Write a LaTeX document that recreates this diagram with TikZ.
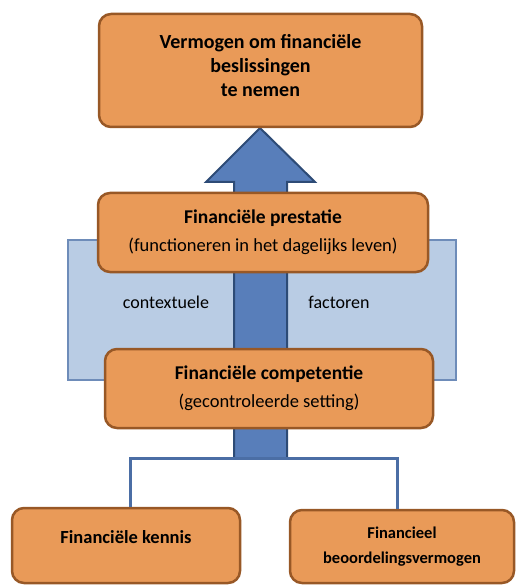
\documentclass[tikz,border=0pt]{standalone}
\usepackage{fontspec}
\setmainfont{Carlito}
\definecolor{oranje}{RGB}{233,154,88}
\definecolor{bruin}{RGB}{152,88,38}
\definecolor{pijlblauw}{RGB}{88,126,186}
\definecolor{donkerblauw}{RGB}{45,75,118}
\definecolor{lichtblauw}{RGB}{185,204,228}
\definecolor{randblauw}{RGB}{110,140,185}
\definecolor{lijnblauw}{RGB}{75,110,165}
\newcommand{\subtekst}{\fontsize{18.5}{28}\selectfont\mdseries}

\begin{document}
\begin{tikzpicture}[x=1pt,y=-1pt]

\tikzstyle{vak} = [rectangle, rounded corners=12pt, draw=bruin, line width=2.5pt, fill=oranje, align=center, inner sep=0pt, font=\fontsize{19.5}{28}\selectfont\bfseries]
\tikzstyle{lijn} = [draw=lijnblauw, line width=3pt]
\useasboundingbox (0,0) rectangle (516,585);

% achtergrond met contextuele factoren
\node (context) [rectangle, draw=randblauw, line width=1.2pt, fill=lichtblauw, minimum width=388, minimum height=140] at (262,310) {};
\node (contextuele) at (166,302) {\fontsize{18}{20}\selectfont contextuele};
\node (factoren) at (339,302) {\fontsize{18}{20}\selectfont factoren};

% grote pijl omhoog
\draw[draw=donkerblauw, line width=2pt, fill=pijlblauw, line join=miter] (234,458) -- (234,182) -- (206,182) -- (260,128) -- (315,182) -- (287,182) -- (287,458) -- cycle;

\node (vermogen) [vak, minimum width=323, minimum height=113, font=\fontsize{20}{24}\selectfont\bfseries] at (260.5,70.5) {Vermogen om financiële\\beslissingen\\te nemen\\[-14pt]\mbox{}};
\node (prestatie) [vak, minimum width=330, minimum height=79] at (263,232.5) {Financiële prestatie\\{\subtekst(functioneren in het dagelijks leven)}};
\node (competentie) [vak, minimum width=328, minimum height=79] at (269,388.5) {Financiële competentie\\{\subtekst(gecontroleerde setting)}};
\node (kennis) [vak, minimum width=228, minimum height=75, font=\fontsize{18.5}{24}\selectfont\bfseries] at (126,545.5) {Financiële kennis\\[-8pt]\mbox{}};
\node (beoordeling) [vak, minimum width=224, minimum height=73, font=\fontsize{16.5}{25}\selectfont\bfseries] at (402,546.5) {Financieel\\beoordelingsvermogen};

\draw[lijn] ([xshift=4pt]kennis.north) -- ++(0,-48) -| ([xshift=-5pt]beoordeling.north);
\end{tikzpicture}
\end{document}
